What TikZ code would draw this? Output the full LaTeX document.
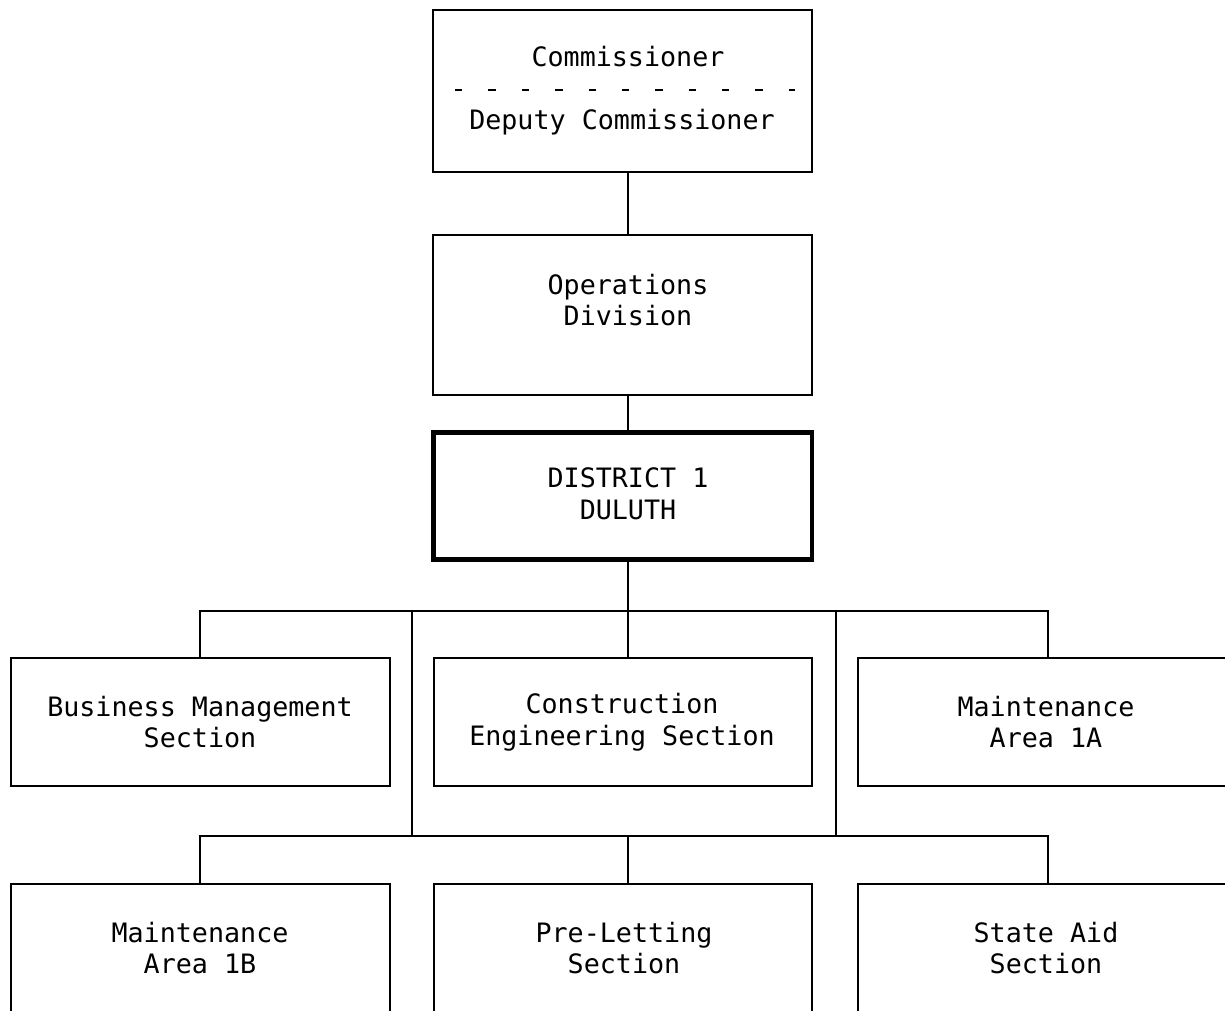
\documentclass[tikz,border=0pt]{standalone}
\usepackage{fontspec}
\newfontfamily\orgfont{DejaVu Sans Mono}
\begin{document}
\begin{tikzpicture}[x=0.02cm, y=-0.02cm,
  thin line/.style={line width=1.1pt, line cap=rect},
  unitbox/.style={draw, thin line, rectangle, inner sep=0pt},
  headbox/.style={draw, line width=2.8pt, rectangle, inner sep=0pt},
  label text/.style={font=\orgfont\fontsize{15.2pt}{18.1pt}\selectfont, align=center, inner sep=0pt}]
\useasboundingbox (0,0) rectangle (1225,1011);
\clip (0,0) rectangle (1225,1011);

% upper chain of command
\node[unitbox, minimum width=7.58cm, minimum height=3.24cm] (comm) at (622.5,91) {};
\node[label text] (commT) at (628,57) {Commissioner};
\node[label text] (depT) at (622,122) {Deputy Commissioner};
\coordinate (dashL) at (455,90);
\coordinate (dashR) at (795,90);
\draw[line width=1.4pt, dash pattern=on 4.2pt off 14.8pt] (dashL) -- (dashR);

\node[unitbox, minimum width=7.58cm, minimum height=3.2cm] (ops) at (622.5,315) {};
\node[label text] (opsT) at (628,300) {Operations\\Division};

\node[headbox, minimum width=7.58cm, minimum height=2.54cm] (dist) at (622.5,496) {};
\node[label text] (distT) at (628,494) {DISTRICT 1\\DULUTH};

% sections
\node[unitbox, minimum width=7.58cm, minimum height=2.56cm] (bms) at (200.5,722) {};
\node[label text] (bmsT) at (200,722) {Business Management\\Section};
\node[unitbox, minimum width=7.56cm, minimum height=2.56cm] (ces) at (623,722) {};
\node[label text] (cesT) at (622,722) {Construction\\Engineering Section};
\node[unitbox, minimum width=8cm, minimum height=2.56cm] (ma1a) at (1058,722) {};
\node[label text] (ma1aT) at (1046,722) {Maintenance\\Area 1A};

\node[unitbox, minimum width=7.58cm, minimum height=3cm] (ma1b) at (200.5,959) {};
\node[label text] (ma1bT) at (200,948) {Maintenance\\Area 1B};
\node[unitbox, minimum width=7.56cm, minimum height=3cm] (pls) at (623,959) {};
\node[label text] (plsT) at (624,948) {Pre-Letting\\Section};
\node[unitbox, minimum width=8cm, minimum height=3cm] (sas) at (1058,959) {};
\node[label text] (sasT) at (1046,948) {State Aid\\Section};

% connectors
\coordinate (busA) at (628,611);
\coordinate (busAL) at (200,611);
\coordinate (busAR) at (1048,611);
\coordinate (busB) at (628,836);
\coordinate (busBL) at (200,836);
\coordinate (busBR) at (1048,836);
\coordinate (riserL) at (412,611);
\coordinate (riserR) at (836,611);

\draw[thin line] (comm.south -| busA) -- (ops.north -| busA);
\draw[thin line] (ops.south -| busA) -- (dist.north -| busA);
\draw[thin line] (dist.south -| busA) -- (busA);
\draw[thin line] (busAL) -- (busAR);
\draw[thin line] (busAL) -- (bms.north -| busAL);
\draw[thin line] (busA) -- (ces.north -| busA);
\draw[thin line] (busAR) -- (ma1a.north -| busAR);
\draw[thin line] (riserL) -- (riserL |- busB);
\draw[thin line] (riserR) -- (riserR |- busB);
\draw[thin line] (busBL) -- (busBR);
\draw[thin line] (busBL) -- (ma1b.north -| busBL);
\draw[thin line] (busB) -- (pls.north -| busB);
\draw[thin line] (busBR) -- (sas.north -| busBR);
\end{tikzpicture}
\end{document}
